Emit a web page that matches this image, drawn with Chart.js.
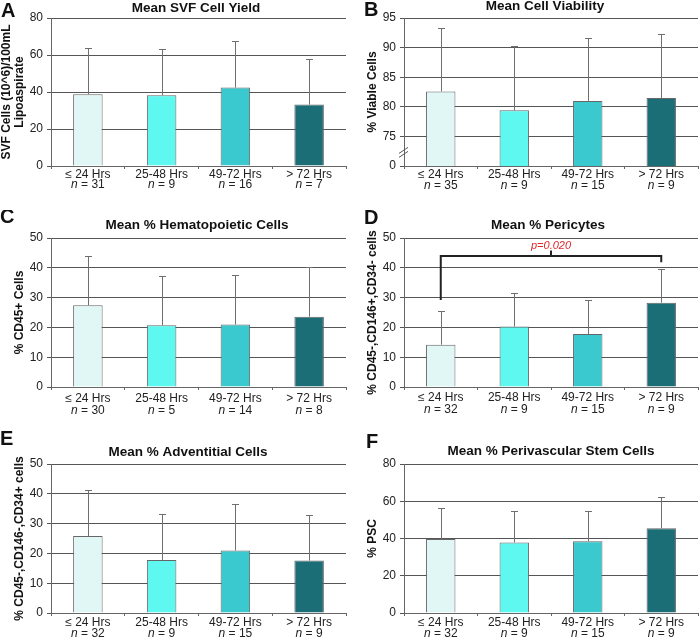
<!DOCTYPE html>
<html>
<head>
<meta charset="utf-8">
<script src="https://cdn.jsdelivr.net/npm/chart.js@4.4.0/dist/chart.umd.min.js"></script>
<style>
  html, body { margin: 0; padding: 0; background: #fff; }
  #wrap { position: relative; width: 700px; height: 638px; overflow: hidden; }
  canvas { position: absolute; }
</style>
</head>
<body>
<div id="wrap">
  <canvas id="cA" width="350" height="210" style="left:0;top:0"></canvas>
  <canvas id="cB" width="350" height="210" style="left:350px;top:0"></canvas>
  <canvas id="cC" width="350" height="215" style="left:0;top:210px"></canvas>
  <canvas id="cD" width="350" height="215" style="left:350px;top:210px"></canvas>
  <canvas id="cE" width="350" height="213" style="left:0;top:425px"></canvas>
  <canvas id="cF" width="350" height="213" style="left:350px;top:425px"></canvas>
</div>
<script>
// ---- data ----
const categories = ['≤ 24 Hrs', '25-48 Hrs', '49-72 Hrs', '> 72 Hrs'];

// A: SVF cell yield
const yieldMean  = [38.8, 38.3, 42.4, 33.2];
const yieldUpper = [63.9, 63.4, 67.5, 58.1];
const yieldN     = [31, 9, 16, 7];

// B: viability (axis broken below 75)
const viabMean  = [82.6, 79.4, 81.0, 81.5];
const viabUpper = [93.3, 90.2, 91.7, 92.3];
const viabN     = [35, 9, 15, 9];

// C: hematopoietic
const hemaMean  = [27.4, 20.7, 21.0, 23.6];
const hemaUpper = [44.0, 37.4, 37.7, 40.2];
const hemaN     = [30, 5, 14, 8];

// D: pericytes
const periMean  = [14.2, 20.3, 17.8, 28.3];
const periUpper = [25.5, 31.5, 29.2, 39.7];
const periN     = [32, 9, 15, 9];
const periPValue = 'p=0.020';

// E: adventitial
const adveMean  = [25.8, 17.8, 21.0, 17.6];
const adveUpper = [41.3, 33.1, 36.5, 33.0];
const adveN     = [32, 9, 15, 9];

// F: perivascular stem cells
const pscMean  = [39.7, 37.9, 38.5, 45.5];
const pscUpper = [56.3, 54.5, 55.0, 62.2];
const pscN     = [32, 9, 15, 9];

const barColors = ['#e0f7f6', '#5ef8f0', '#3bc9d0', '#1b6e75'];
const FONT = '"Liberation Sans", Arial, sans-serif';
Chart.defaults.font.family = FONT;
Chart.defaults.color = '#222';

function deco(p) {
  return {
    id: 'deco',
    afterDatasetsDraw(chart) {
      const ctx = chart.ctx;
      const ys = chart.scales.y;
      const meta = chart.getDatasetMeta(0);
      ctx.save();
      ctx.strokeStyle = '#6f6f6f';
      ctx.lineWidth = 1;
      meta.data.forEach((bar, i) => {
        const x = Math.round(bar.x) + 0.5;
        const top = Math.round(ys.getPixelForValue(p.upper[i])) + 0.5;
        ctx.beginPath();
        ctx.moveTo(x, bar.y);
        ctx.lineTo(x, top);
        ctx.moveTo(x - 3.5, top);
        ctx.lineTo(x + 3.5, top);
        ctx.stroke();
      });
      ctx.restore();
    },
    afterDraw(chart) {
      const ctx = chart.ctx;
      const xs = chart.scales.x, ys = chart.scales.y;
      const area = chart.chartArea;
      ctx.save();
      // panel letter
      ctx.fillStyle = '#111';
      ctx.font = 'bold 20px ' + FONT;
      ctx.textAlign = 'left';
      ctx.textBaseline = 'alphabetic';
      ctx.fillText(p.letter, p.letterX, p.letterY);
      // title
      ctx.font = 'bold 13.5px ' + FONT;
      ctx.textAlign = 'center';
      ctx.textBaseline = 'middle';
      ctx.fillText(p.title, p.titleX, p.titleY);
      // n = .. line
      ctx.fillStyle = '#222';
      ctx.textAlign = 'left';
      p.n.forEach((n, i) => {
        const x = xs.getPixelForValue(i);
        const y = area.bottom + p.nOff;
        ctx.font = 'italic 12px ' + FONT;
        const w1 = ctx.measureText('n').width;
        ctx.font = '12px ' + FONT;
        const rest = ' = ' + n;
        const w2 = ctx.measureText(rest).width;
        const x0 = x - (w1 + w2) / 2;
        ctx.font = 'italic 12px ' + FONT;
        ctx.fillText('n', x0, y);
        ctx.font = '12px ' + FONT;
        ctx.fillText(rest, x0 + w1, y);
      });
      if (p.extra) p.extra(chart, ctx, xs, ys, area);
      ctx.restore();
    }
  };
}

function makePanel(id, p) {
  const canvas = document.getElementById(id);
  const W = canvas.width, H = canvas.height;
  return new Chart(canvas, {
    type: 'bar',
    data: {
      labels: categories,
      datasets: [{
        data: p.mean,
        backgroundColor: barColors,
        borderColor: '#666',
        borderWidth: 1,
        categoryPercentage: 1,
        barPercentage: 0.4
      }]
    },
    options: {
      responsive: false,
      animation: false,
      events: [],
      layout: { padding: { top: p.area.top, right: W - p.area.right, bottom: 0, left: 0 } },
      plugins: { legend: { display: false }, tooltip: { enabled: false }, title: { display: false } },
      scales: {
        x: {
          afterFit: s => { s.height = H - p.area.bottom; },
          grid: { drawOnChartArea: false, tickLength: 3, color: '#666', offset: true },
          border: { color: '#666', width: 1 },
          ticks: { font: { size: 12 }, color: '#222', padding: p.tickPad, maxRotation: 0, autoSkip: false }
        },
        y: {
          min: p.min, max: p.max,
          afterFit: s => { s.width = p.area.left; },
          grid: { color: '#555', tickLength: 4, lineWidth: 1 },
          border: { color: '#666', width: 1 },
          ticks: {
            stepSize: p.step, font: { size: 12 }, color: '#222', padding: 4,
            callback: p.tickCb || (v => v)
          },
          title: {
            display: true, text: p.yTitle, color: '#111',
            font: { size: 12, weight: 'bold', lineHeight: 1.1 },
            padding: { top: p.yTitlePad, bottom: 0 }
          }
        }
      }
    },
    plugins: [deco(p)]
  });
}

makePanel('cA', {
  letter: 'A', letterX: 1, letterY: 17, title: 'Mean SVF Cell Yield', titleX: 196, titleY: 8.5,
  area: { left: 51, top: 18, right: 346, bottom: 166 },
  mean: yieldMean, upper: yieldUpper, n: yieldN, min: 0, max: 80, step: 20,
  yTitle: ['SVF Cells (10^6)/100mL', 'Lipoaspirate'], yTitlePad: 0,
  tickPad: -2, nOff: 19
});

makePanel('cB', {
  letter: 'B', letterX: 14, letterY: 16, title: 'Mean Cell Viability', titleX: 195, titleY: 6,
  area: { left: 54, top: 18, right: 348, bottom: 166 },
  mean: viabMean, upper: viabUpper, n: viabN, min: 70, max: 95, step: 5,
  tickCb: v => (v === 70 ? '0' : v),
  yTitle: '% Viable Cells', yTitlePad: 16,
  tickPad: -2, nOff: 19.5,
  extra: (chart, ctx, xs, ys, area) => {
    // axis break marks
    const x = area.left;
    const y = ys.getPixelForValue(72.3);
    ctx.strokeStyle = '#555';
    ctx.lineWidth = 1;
    ctx.beginPath();
    ctx.moveTo(x - 5, y + 1); ctx.lineTo(x + 4, y - 5);
    ctx.moveTo(x - 5, y + 5); ctx.lineTo(x + 4, y - 1);
    ctx.stroke();
  }
});

makePanel('cC', {
  letter: 'C', letterX: 0, letterY: 13, title: 'Mean % Hematopoietic Cells', titleX: 197, titleY: 15,
  area: { left: 51, top: 28, right: 346, bottom: 177 },
  mean: hemaMean, upper: hemaUpper, n: hemaN, min: 0, max: 50, step: 10,
  yTitle: '% CD45+ Cells', yTitlePad: 13,
  tickPad: 1, nOff: 24
});

makePanel('cD', {
  letter: 'D', letterX: 14, letterY: 14, title: 'Mean % Pericytes', titleX: 198, titleY: 15,
  area: { left: 54, top: 28, right: 348, bottom: 177 },
  mean: periMean, upper: periUpper, n: periN, min: 0, max: 50, step: 10,
  yTitle: '% CD45-,CD146+,CD34- cells', yTitlePad: 16,
  tickPad: 0.5, nOff: 23,
  extra: (chart, ctx, xs, ys, area) => {
    // significance bracket between first and last group
    const xl = xs.getPixelForValue(0), xr = xs.getPixelForValue(3);
    const yb = ys.getPixelForValue(44);
    ctx.strokeStyle = '#222';
    ctx.lineWidth = 2;
    ctx.beginPath();
    ctx.moveTo(xl, ys.getPixelForValue(29.2));
    ctx.lineTo(xl, yb);
    ctx.lineTo(xr, yb);
    ctx.lineTo(xr, ys.getPixelForValue(41.9));
    ctx.moveTo((xl + xr) / 2, yb);
    ctx.lineTo((xl + xr) / 2, ys.getPixelForValue(45.8));
    ctx.stroke();
    ctx.fillStyle = '#e2262b';
    ctx.font = 'italic 11px ' + FONT;
    ctx.textAlign = 'center';
    ctx.textBaseline = 'middle';
    ctx.fillText(periPValue, (xl + xr) / 2, ys.getPixelForValue(47.5));
  }
});

makePanel('cE', {
  letter: 'E', letterX: 0, letterY: 20, title: 'Mean % Adventitial Cells', titleX: 188, titleY: 27.3,
  area: { left: 51, top: 39, right: 346, bottom: 188 },
  mean: adveMean, upper: adveUpper, n: adveN, min: 0, max: 50, step: 10,
  yTitle: '% CD45-,CD146-,CD34+ cells', yTitlePad: 13,
  tickPad: -1, nOff: 20.5
});

makePanel('cF', {
  letter: 'F', letterX: 16, letterY: 23, title: 'Mean % Perivascular Stem Cells', titleX: 201, titleY: 26.7,
  area: { left: 54, top: 39, right: 348, bottom: 188 },
  mean: pscMean, upper: pscUpper, n: pscN, min: 0, max: 80, step: 20,
  yTitle: '% PSC', yTitlePad: 16,
  tickPad: -1, nOff: 20.5
});
</script>
</body>
</html>
